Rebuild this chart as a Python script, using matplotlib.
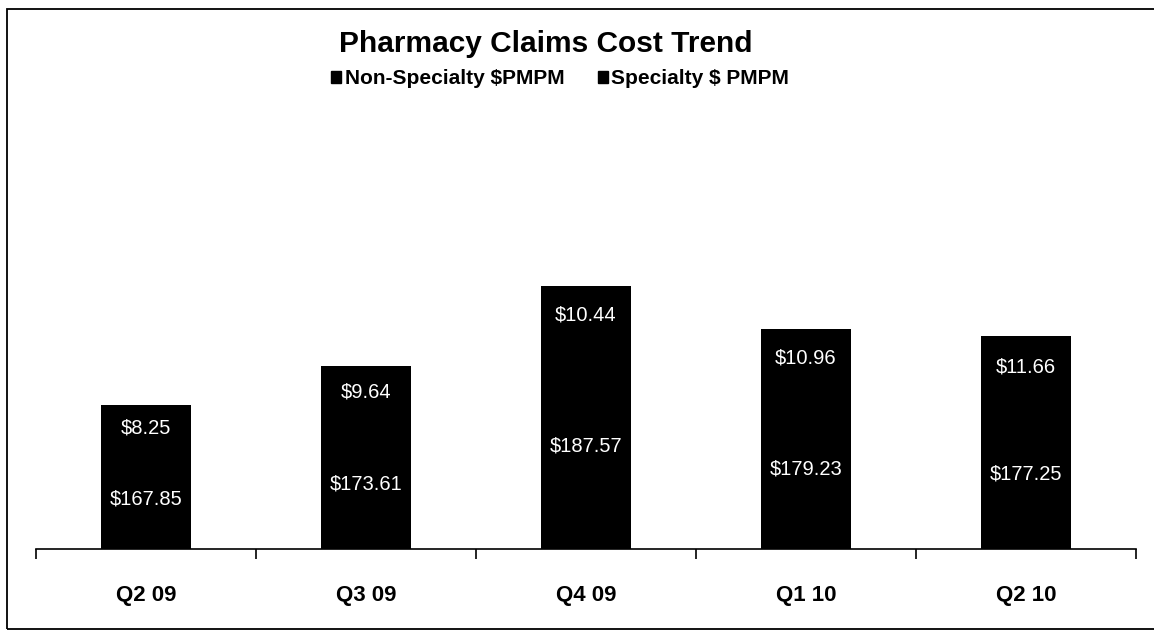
import matplotlib
matplotlib.use('Agg')
from matplotlib import pyplot as plt
from matplotlib.patches import Rectangle, Patch
import numpy as np

quarters = ['Q2 09', 'Q3 09', 'Q4 09', 'Q1 10', 'Q2 10']
non_specialty = [167.85, 173.61, 187.57, 179.23, 177.25]
specialty = [8.25, 9.64, 10.44, 10.96, 11.66]

plt.rcParams['font.family'] = ['Liberation Sans', 'DejaVu Sans']

fig = plt.figure(figsize=(11.54, 6.34), dpi=100)
ax = fig.add_axes([36 / 1154, 1 - 549 / 634, 1100 / 1154, 380 / 634])

x = np.arange(len(quarters))
base = 149.6
width = 0.41
ax.bar(x, np.array(non_specialty) - base, width, bottom=base, color='black')
ax.bar(x, specialty, width, bottom=non_specialty, color='black')

for i in range(len(quarters)):
    ax.text(x[i], (base + non_specialty[i]) / 2, f'${non_specialty[i]:.2f}',
            color='white', ha='center', va='center', fontsize=14.5)
    ax.text(x[i], non_specialty[i] + specialty[i] / 2, f'${specialty[i]:.2f}',
            color='white', ha='center', va='center', fontsize=14.5)

ax.set_xlim(-0.5, len(quarters) - 0.5)
ax.set_ylim(base, base + 70)
ax.set_yticks([])
for s in ['left', 'right', 'top']:
    ax.spines[s].set_visible(False)
ax.spines['bottom'].set_linewidth(1.2)
ax.set_xticks(x)
ax.set_xticklabels(quarters, fontsize=16, fontweight='bold')
ax.tick_params(axis='x', which='major', length=0, pad=26)
ax.set_xticks(np.arange(-0.5, len(quarters)), minor=True)
ax.tick_params(axis='x', which='minor', length=7, width=1.2, direction='out')

fig.text(546 / 1154, 1 - 44 / 634, 'Pharmacy Claims Cost Trend',
         ha='center', va='center', fontsize=21.5, fontweight='bold')

handles = [Patch(color='black', label='Non-Specialty $PMPM'),
           Patch(color='black', label='Specialty $ PMPM')]
fig.legend(handles=handles, loc='center', bbox_to_anchor=(560 / 1154, 1 - 79 / 634),
           ncol=2, frameon=False, prop={'size': 15, 'weight': 'bold'},
           handlelength=0.5, handleheight=0.5, handletextpad=0.15, columnspacing=1.6)

fig.patches.append(Rectangle((7 / 1154, 1 - 629 / 634), 1.2, (629 - 9) / 634,
                             transform=fig.transFigure, fill=False,
                             edgecolor='black', linewidth=1.3))

fig.savefig('out.png', dpi=100)
